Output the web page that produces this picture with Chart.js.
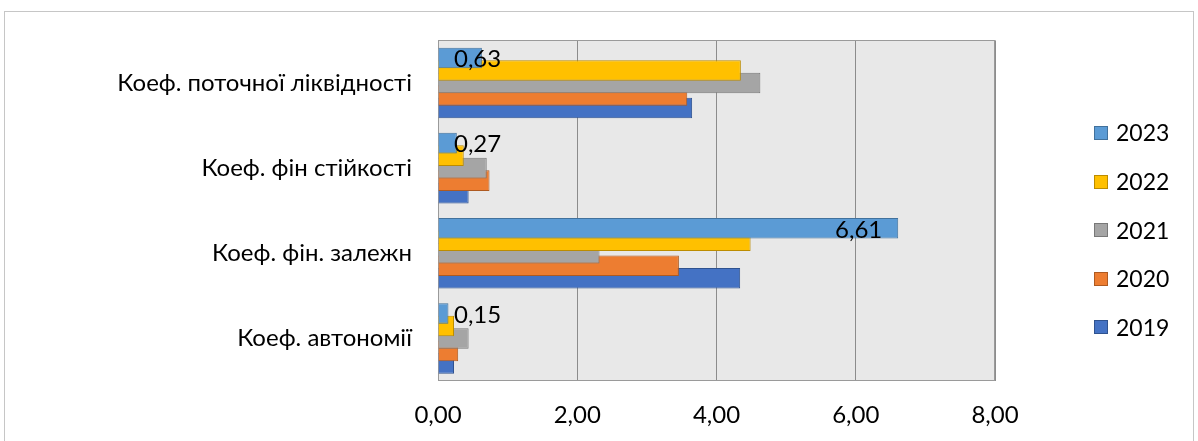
<!DOCTYPE html>
<html lang="uk">
<head>
<meta charset="utf-8">
<title>Коефіцієнти фінансового стану</title>
<script src="https://cdn.jsdelivr.net/npm/chart.js@4.4.1/dist/chart.umd.min.js"></script>
<style>
  html, body { margin: 0; padding: 0; background: #ffffff; }
  #wrap { position: relative; width: 1198px; height: 441px; }
  canvas { display: block; }
</style>
</head>
<body>
<div id="wrap"><canvas id="chart" width="1198" height="441"></canvas></div>
<script>
// Categories, listed top to bottom
const categories = [
  'Коеф. поточної ліквідності',
  'Коеф. фін стійкості',
  'Коеф. фін. залежн',
  'Коеф. автономії'
];

// Values per year, same order as categories
const y2023 = [0.63, 0.27, 6.61, 0.15];
const y2022 = [4.35, 0.37, 4.49, 0.23];
const y2021 = [4.63, 0.70, 2.32, 0.44];
const y2020 = [3.58, 0.74, 3.46, 0.29];
const y2019 = [3.65, 0.44, 4.34, 0.23];

const years = ['2023', '2022', '2021', '2020', '2019'];
const xTickValues = [0, 2, 4, 6, 8];

const FONT = 'Lato, "Open Sans", sans-serif';
const FONT_SIZE = 24;
const LEGEND_FONT_SIZE = 23;

const fills   = ['#5B9BD5', '#FFC000', '#A5A5A5', '#ED7D31', '#4472C4'];
const borders = ['#41719C', '#BC8C00', '#787878', '#AE5A21', '#2F528F'];
const seriesValues = [y2023, y2022, y2021, y2020, y2019];

const fmt = v => Number(v).toFixed(2).replace('.', ',');

const datasets = years.map((yr, i) => ({
  label: yr,
  data: seriesValues[i],
  backgroundColor: fills[i],
  borderColor: borders[i],
  borderWidth: 1,
  categoryPercentage: 0.733,
  barPercentage: 1.65
}));

// Outer frame, plot background and plot frame
const framePlugin = {
  id: 'frame',
  beforeDraw(chart) {
    const { ctx, chartArea: a } = chart;
    ctx.save();
    ctx.strokeStyle = '#c6c6c6';
    ctx.lineWidth = 1;
    ctx.strokeRect(4.5, 11.5, 1189, 440);
    ctx.fillStyle = '#e8e8e8';
    ctx.fillRect(a.left, a.top, a.right - a.left, a.bottom - a.top);
    ctx.restore();
  },
  beforeDatasetsDraw(chart) {
    const { ctx, chartArea: a } = chart;
    ctx.save();
    ctx.strokeStyle = '#9a9a9a';
    ctx.lineWidth = 1;
    ctx.strokeRect(Math.round(a.left) + 0.5, Math.round(a.top) + 0.5,
                   Math.round(a.right - a.left) - 1, Math.round(a.bottom - a.top) - 1);
    ctx.restore();
  }
};

// Value labels for the 2023 series, placed at the inside end of each bar
const valueLabels = {
  id: 'valueLabels',
  afterDatasetsDraw(chart) {
    const { ctx, chartArea: a } = chart;
    const meta = chart.getDatasetMeta(0);
    ctx.save();
    ctx.font = FONT_SIZE + 'px ' + FONT;
    ctx.fillStyle = '#000';
    ctx.textAlign = 'right';
    ctx.textBaseline = 'middle';
    meta.data.forEach((bar, i) => {
      const txt = fmt(chart.data.datasets[0].data[i]);
      const w = ctx.measureText(txt).width;
      const right = Math.max(bar.x - 16, a.left + 16 + w);
      ctx.fillText(txt, right, bar.y + 1.5);
    });
    ctx.restore();
  }
};

// Legend column on the right
const sideLegend = {
  id: 'sideLegend',
  afterDraw(chart) {
    const { ctx } = chart;
    const x0 = 1094, yStart = 133, step = 48.6, box = 14;
    ctx.save();
    ctx.font = LEGEND_FONT_SIZE + 'px ' + FONT;
    ctx.textBaseline = 'middle';
    ctx.textAlign = 'left';
    chart.data.datasets.forEach((ds, i) => {
      const y = yStart + i * step;
      ctx.fillStyle = ds.backgroundColor;
      ctx.fillRect(x0, Math.round(y - box / 2), box, box);
      ctx.strokeStyle = ds.borderColor;
      ctx.lineWidth = 1;
      ctx.strokeRect(x0 + 0.5, Math.round(y - box / 2) + 0.5, box - 1, box - 1);
      ctx.fillStyle = '#000';
      ctx.fillText(ds.label, 1116, y + 1);
    });
    ctx.restore();
  }
};

new Chart(document.getElementById('chart'), {
  type: 'bar',
  data: { labels: categories, datasets },
  options: {
    indexAxis: 'y',
    responsive: false,
    animation: false,
    events: [],
    layout: { padding: { top: 40, right: 203, left: 0, bottom: 0 } },
    plugins: {
      legend: { display: false },
      tooltip: { enabled: false }
    },
    scales: {
      x: {
        min: 0,
        max: 8,
        afterBuildTicks: s => { s.ticks = xTickValues.map(v => ({ value: v })); },
        afterFit: s => { s.height = 60; },
        grid: { color: '#8c8c8c', lineWidth: 1, drawTicks: false },
        border: { display: false },
        ticks: {
          padding: 20,
          color: '#000',
          font: { family: FONT, size: FONT_SIZE },
          callback: v => fmt(v)
        }
      },
      y: {
        afterFit: s => { s.width = 438; },
        grid: { display: false, drawTicks: false },
        border: { display: false },
        ticks: {
          padding: 26,
          color: '#000',
          font: { family: FONT, size: FONT_SIZE }
        }
      }
    }
  },
  plugins: [framePlugin, valueLabels, sideLegend]
});
</script>
</body>
</html>
